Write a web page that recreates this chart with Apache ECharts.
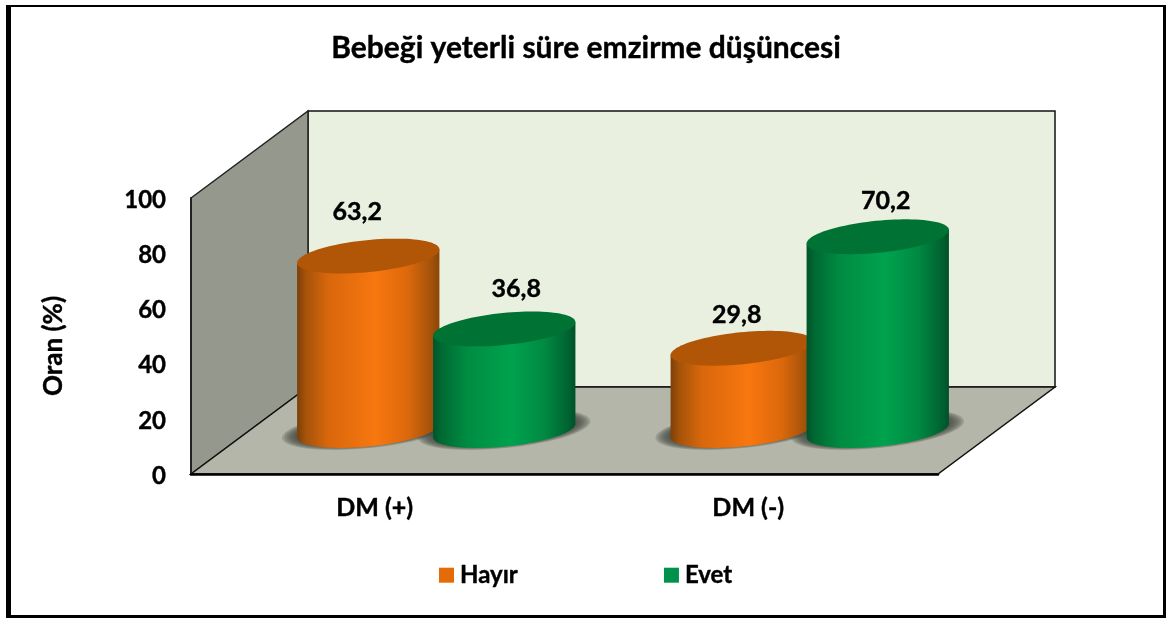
<!DOCTYPE html>
<html>
<head>
<meta charset="utf-8">
<style>html,body{margin:0;padding:0;background:#fff}#c{width:1166px;height:618px}</style>
<script src="https://cdn.jsdelivr.net/npm/echarts@6/dist/echarts.min.js"></script>
</head>
<body>
<div id="c"></div>
<script>
const categories = ['DM (+)', 'DM (-)'];
const hayir = [63.2, 29.8];
const evet = [36.8, 70.2];
const yTicks = [0, 20, 40, 60, 80, 100];
const titleText = 'Bebeği yeterli süre emzirme düşüncesi';
const yName = 'Oran (%)';

const FONT = 'Lato';
const INK = { color: '#000', textBorderColor: '#000', textBorderWidth: 0.4 };
const DEPTH_X = 117, DEPTH_Y = -87;
const RX = 71.5, RY = 16, TILT = -0.1;
const SLOT = 68;

function ell(cx, cy, rx, ry, t) {
  const c = Math.cos(TILT), s = Math.sin(TILT);
  return [cx + rx * Math.cos(t) * c - ry * Math.sin(t) * s,
          cy + rx * Math.cos(t) * s + ry * Math.sin(t) * c];
}
function ring(cx, cy, rx, ry) {
  const p = [];
  for (let i = 0; i < 96; i++) p.push(ell(cx, cy, rx, ry, i / 96 * 2 * Math.PI));
  return p;
}
function body(cx, top, bot) {
  const t0 = Math.atan2(-RY * Math.sin(TILT), RX * Math.cos(TILT));
  const p = [ell(cx, top, RX, RY, t0)];
  for (let i = 0; i <= 64; i++) p.push(ell(cx, bot, RX, RY, t0 + i / 64 * Math.PI));
  p.push(ell(cx, top, RX, RY, t0 + Math.PI));
  return p;
}
function grad(stops) {
  return { type: 'linear', x: 0, y: 0, x2: 1, y2: 0,
    colorStops: stops.map(s => ({ offset: s[0], color: s[1] })) };
}
const orange = { side: grad([[0,'#7d3f08'],[0.06,'#a4530a'],[0.22,'#d9670c'],[0.55,'#f8770f'],[0.78,'#dc680c'],[0.94,'#a4530a'],[1,'#8a4608']]), top: '#b15607' };
const green = { side: grad([[0,'#00542a'],[0.06,'#006a33'],[0.24,'#008c42'],[0.55,'#00a24e'],[0.78,'#008a42'],[0.94,'#006532'],[1,'#00512a']]), top: '#007233' };

const labelShift = { 'Hayır': [[-11, -44], [-5, -33]], 'Evet': [[12, -40], [8, -36]] };

function softShadow(cx, bot) {
  const out = [];
  for (let i = 6; i >= 0; i--) {
    out.push({ type: 'polygon', z2: 1, shape: { points: ring(cx, bot - 1, RX + 2 + i * 2.2, RY - 1 + i * 0.6) },
      style: { fill: 'rgba(70,74,64,0.22)' } });
  }
  return out;
}

function cylinderSeries(name, values, sign, look, base, legendColor) {
  return {
    type: 'custom', name, coordinateSystem: 'cartesian2d', z: 2,
    itemStyle: { color: legendColor },
    encode: { x: 0, y: 1 },
    data: values.map((v, i) => [i, v]),
    renderItem(params, api) {
      const idx = api.value(0), val = api.value(1);
      const p0 = api.coord([idx, 0]), p1 = api.coord([idx, val]);
      const cx = p0[0] + DEPTH_X / 2 + sign * SLOT;
      const bot = p0[1] + DEPTH_Y / 2;
      const top = p1[1] + DEPTH_Y / 2;
      const shift = labelShift[name][idx];
      return { type: 'group', children: softShadow(cx, bot).concat([
        { type: 'polygon', z2: base, shape: { points: body(cx, top, bot) }, style: { fill: look.side } },
        { type: 'polygon', z2: base + 1, shape: { points: ring(cx, top, RX, RY) }, style: { fill: look.top } },
        { type: 'text', z2: 50, style: { text: String(val).replace('.', ','), x: cx + shift[0], y: top + shift[1],
            align: 'center', verticalAlign: 'middle', fill: '#000', stroke: '#000', lineWidth: 0.4, font: 'bold 25px ' + FONT } }
      ]) };
    }
  };
}

const wallSeries = {
  type: 'custom', z: -1, silent: true, coordinateSystem: 'cartesian2d',
  data: [[0, 0]], encode: { x: 0, y: 1 },
  renderItem(params) {
    const g = params.coordSys;
    const L = g.x, R = g.x + g.width, T = g.y, B = g.y + g.height;
    const dx = DEPTH_X, dy = DEPTH_Y;
    return { type: 'group', children: [
      { type: 'polygon', shape: { points: [[L + dx, T + dy], [R + dx, T + dy], [R + dx, B + dy], [L + dx, B + dy]] },
        style: { fill: '#e9f0e0', stroke: '#111', lineWidth: 1.5 } },
      { type: 'polygon', shape: { points: [[L, T], [L + dx, T + dy], [L + dx, B + dy], [L, B]] },
        style: { fill: '#95988c', stroke: '#222', lineWidth: 1.5 } },
      { type: 'polygon', shape: { points: [[L, B], [R, B], [R + dx, B + dy], [L + dx, B + dy]] },
        style: { fill: '#b3b6a8', stroke: '#111', lineWidth: 1.5 } }
    ] };
  }
};

const borderColor = '#000';
const chart = echarts.init(document.getElementById('c'), null, { renderer: 'canvas' });
chart.setOption({
  animation: false,
  backgroundColor: '#fff',
  textStyle: { fontFamily: FONT },
  title: { text: titleText, left: 581, top: 28, textAlign: 'center',
    textStyle: Object.assign({ fontFamily: FONT, fontWeight: 'bold', fontSize: 30 }, INK) },
  legend: { data: ['Hayır', 'Evet'], left: 439, top: 563, padding: 0, icon: 'rect', itemWidth: 15, itemHeight: 15, itemGap: 146,
    textStyle: Object.assign({ fontFamily: FONT, fontWeight: 'bold', fontSize: 24, padding: [0, 0, 0, 1] }, INK) },
  grid: { left: 191, top: 198, width: 747, height: 276, containLabel: false },
  xAxis: { type: 'category', data: categories, z: 5,
    axisLine: { show: true, lineStyle: { color: '#000', width: 2.5 } },
    axisTick: { show: false }, splitLine: { show: false },
    axisLabel: Object.assign({ margin: 21, fontFamily: FONT, fontWeight: 'bold', fontSize: 25, padding: [0, 6, 0, 0] }, INK) },
  yAxis: { type: 'value', min: 0, max: 100, interval: 20, z: 5,
    name: yName, nameLocation: 'middle', nameGap: 124, nameRotate: 90,
    nameTextStyle: Object.assign({ fontFamily: FONT, fontWeight: 'bold', fontSize: 26, padding: [0, 20, 0, 0] }, INK),
    axisLine: { show: true, lineStyle: { color: '#222', width: 2 } },
    axisTick: { show: false }, splitLine: { show: false },
    axisLabel: { margin: 25, customValues: yTicks, formatter: '{v|{value}}',
      rich: { v: Object.assign({ fontFamily: FONT, fontWeight: 'bold', fontSize: 24, padding: [4, 0, 0, 0] }, INK) } } },
  series: [wallSeries,
    cylinderSeries('Hayır', hayir, -1, orange, 10, '#e36c09'),
    cylinderSeries('Evet', evet, 1, green, 20, '#00914a')],
  graphic: [
    { type: 'rect', shape: { x: 6, y: 5, width: 1160, height: 2 }, style: { fill: borderColor }, z: 100 },
    { type: 'rect', shape: { x: 6, y: 5, width: 5, height: 613 }, style: { fill: borderColor }, z: 100 },
    { type: 'rect', shape: { x: 1163, y: 5, width: 3, height: 613 }, style: { fill: borderColor }, z: 100 },
    { type: 'rect', shape: { x: 6, y: 615, width: 1160, height: 3 }, style: { fill: borderColor }, z: 100 }
  ]
});
</script>
</body>
</html>
